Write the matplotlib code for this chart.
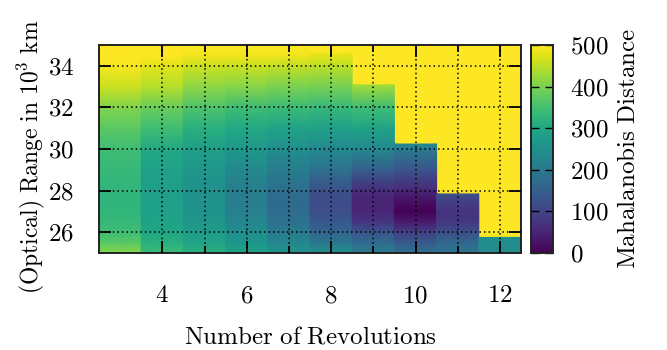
import numpy as np
import matplotlib
matplotlib.use("Agg")
import matplotlib.pyplot as plt
from matplotlib.ticker import FixedLocator, FuncFormatter

plt.rcParams['font.family'] = ['cmr10']
plt.rcParams['mathtext.fontset'] = 'cm'
plt.rcParams['axes.formatter.use_mathtext'] = True

# ---------------- data ----------------
revolutions = [3, 4, 5, 6, 7, 8, 9, 10, 11, 12]
range_nodes = [25, 25.5, 26, 26.5, 27, 27.5, 28, 29, 30, 31, 32, 33, 34, 34.5, 35]
# Mahalanobis distance per revolution count (rows) at range_nodes (None = no data)
distance = [
    [410, 370, 345, 335, 328, 325, 328, 335, 345, 372, 405, 460, 495, 510, 530],
    [340, 315, 295, 288, 283, 282, 278, 285, 300, 345, 385, 445, 478, 500, 520],
    [315, 290, 275, 262, 255, 252, 250, 262, 280, 315, 360, 415, 462, 490, 515],
    [285, 262, 245, 228, 215, 210, 210, 235, 265, 300, 345, 410, 460, 490, 515],
    [260, 230, 205, 188, 175, 172, 178, 210, 245, 290, 340, 400, 455, 490, 515],
    [250, 200, 162, 135, 118, 115, 122, 185, 235, 285, 335, 395, 450, 480, None],
    [210, 170, 130, 78, 52, 50, 62, 150, 235, 290, 345, 425, None, None, None],
    [185, 140, 95, 35, 3, 20, 55, 130, 205, None, None, None, None, None, None],
    [195, 165, 120, 80, 75, 95, None, None, None, None, None, None, None, None, None],
    [240, 245, None, None, None, None, None, None, None, None, None, None, None, None, None],
]
# upper edge of valid data for each revolution count and the value there
top_range = [35, 35, 35, 35, 35, 34.6, 33.08, 30.24, 27.84, 25.75]
top_value = [530, 520, 515, 515, 515, 485, 430, 235, 125, 248]

x_ticks = [4, 6, 8, 10, 12]
x_minor = [5, 7, 9, 11]
y_ticks = [26, 28, 30, 32, 34]
cb_ticks = [0, 100, 200, 300, 400, 500]

# ---------------- figure ----------------
W, H = 667, 350
FS = 18
fig = plt.figure(figsize=(W / 100, H / 100), dpi=100)
ax = fig.add_axes([99 / W, 1 - 253 / H, 422 / W, 208 / H])
cmap = plt.get_cmap('viridis')
ax.set_facecolor(cmap(1.0))

mesh = None
for rev, vals, ytop, vtop in zip(revolutions, distance, top_range, top_value):
    ys = [y for y, v in zip(range_nodes, vals) if v is not None and y < ytop]
    vs = [v for y, v in zip(range_nodes, vals) if v is not None and y < ytop]
    ys.append(ytop)
    vs.append(vtop)
    ys = np.array(ys, dtype=float)
    vs = np.array(vs, dtype=float)
    X = np.column_stack([np.full_like(ys, rev - 0.5), np.full_like(ys, rev + 0.5)])
    Y = np.column_stack([ys, ys])
    C = np.column_stack([vs, vs])
    mesh = ax.pcolormesh(X, Y, C, shading='gouraud', cmap=cmap, vmin=0, vmax=500,
                         antialiased=False)

ax.set_xlim(2.5, 12.5)
ax.set_ylim(25, 35)

fmt = FuncFormatter(lambda v, p: r'$%d$' % v)
ax.xaxis.set_major_locator(FixedLocator(x_ticks))
ax.xaxis.set_minor_locator(FixedLocator(x_minor))
ax.yaxis.set_major_locator(FixedLocator(y_ticks))
ax.xaxis.set_major_formatter(fmt)
ax.yaxis.set_major_formatter(fmt)

ax.tick_params(which='major', direction='in', top=True, right=True, length=8.5,
               width=1.3, color='black', labelsize=FS)
ax.tick_params(which='minor', direction='in', top=True, right=True, length=5,
               width=1.3, color='black')
ax.tick_params(axis='x', which='major', pad=23)
ax.tick_params(axis='y', which='major', pad=18)

ax.grid(True, which='both', axis='x', color='black', linestyle=(0, (1, 2)), linewidth=1.1)
ax.grid(True, which='major', axis='y', color='black', linestyle=(0, (1, 2)), linewidth=1.1)
ax.set_axisbelow(False)
for s in ax.spines.values():
    s.set_linewidth(1.4)
    s.set_color('#222222')

ax.set_xlabel(r'$\mathrm{Number\ of\ Revolutions}$', fontsize=FS)
ax.xaxis.set_label_coords(0.5, -0.355)
ax.set_ylabel(r'$\mathrm{(Optical)\ Range\ in\ 10^3\ km}$', fontsize=17)
ax.yaxis.set_label_coords(-0.123, 0.46)

# colorbar
cax = fig.add_axes([531 / W, 1 - 253 / H, 22 / W, 208 / H])
cb = fig.colorbar(mesh, cax=cax, ticks=cb_ticks)
cb.ax.yaxis.set_major_formatter(fmt)
cb.ax.tick_params(direction='in', left=True, right=True, length=6, width=1.0,
                  color='black', labelsize=FS, pad=12)
cb.outline.set_linewidth(1.4)
cb.outline.set_edgecolor('#222222')
cb.set_label(r'$\mathrm{Mahalanobis\ Distance}$', fontsize=FS)
cb.ax.yaxis.set_label_coords(3.95, 0.5)

fig.savefig('out.png', dpi=100)
